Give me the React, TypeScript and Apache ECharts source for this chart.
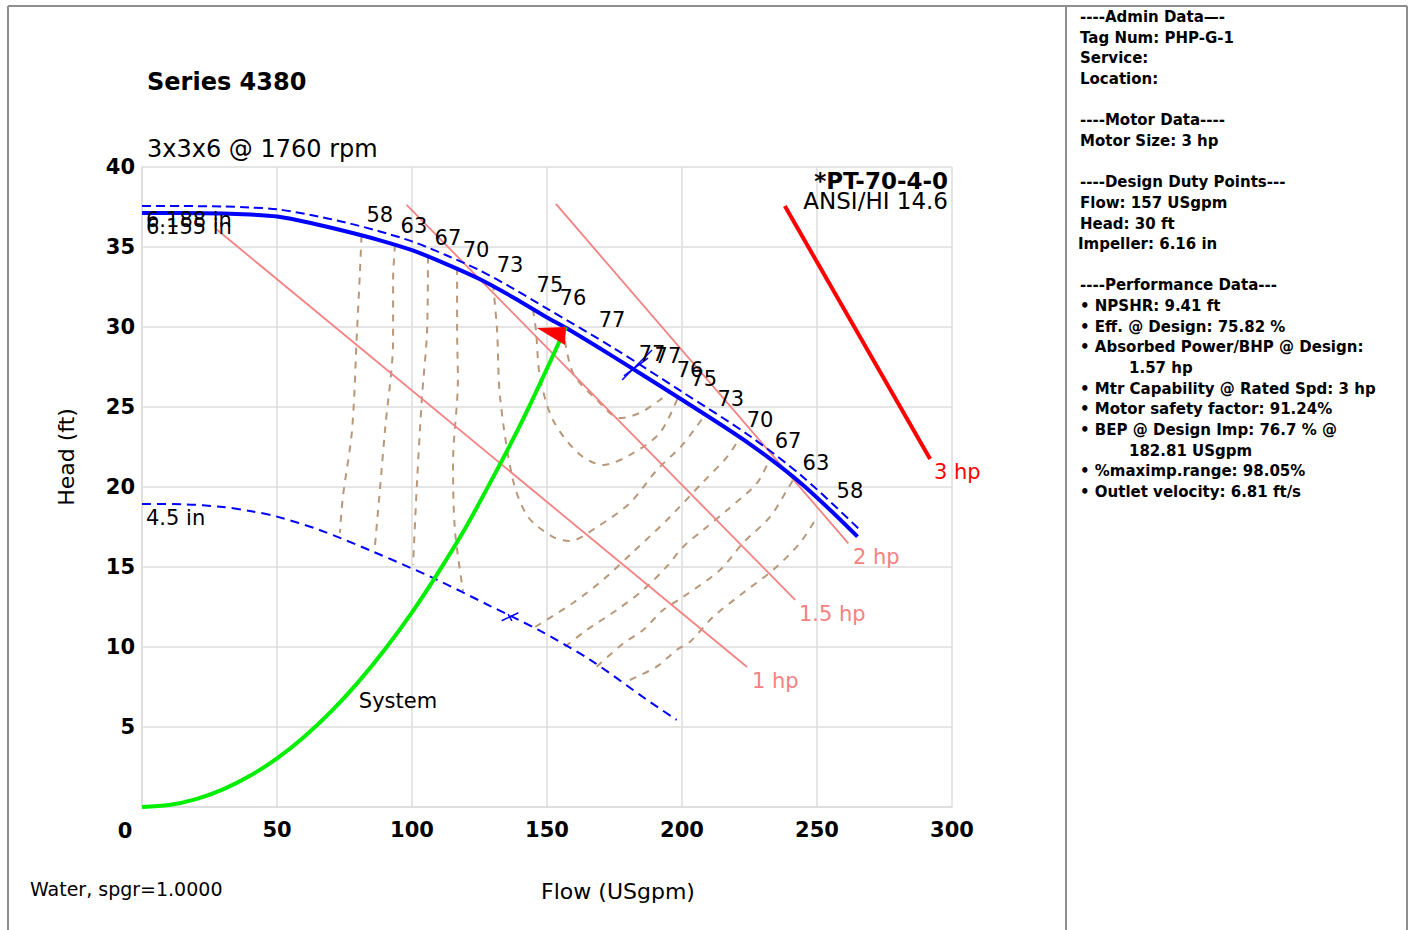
import React, { useEffect, useRef } from 'react';
import * as echarts from 'echarts';

const FONT = '"DejaVu Sans", Verdana, sans-serif';

// ---------- head curves (flow USgpm, head ft) ----------
const head6155 = [[0,37.13],[15,37.13],[30,37.1],[40,37.03],[50,36.9],[62.5,36.5],[75,36.0],[87.5,35.45],[100,34.8],[112.5,33.95],[125,33.0],[137.5,31.85],[150,30.6],[157,29.95],[175,28.1],[200,25.45],[225,22.7],[245,20.1],[265,16.9]];
const head6188 = [[0,37.56],[15,37.56],[30,37.53],[40,37.47],[50,37.36],[62.5,37.0],[75,36.55],[87.5,36.0],[100,35.35],[112.5,34.5],[125,33.55],[137.5,32.4],[150,31.15],[175,28.65],[200,25.95],[225,23.2],[245,20.6],[266,17.3]];
const head45 = [[0,18.94],[15,18.92],[30,18.75],[40,18.5],[50,18.15],[66,17.3],[85,16.0],[108,14.3],[129,12.56],[147,11.05],[166,9.2],[187,6.7],[198,5.45]];
const systemCurve = [[0,0],[10,0.12],[20,0.49],[30,1.1],[40,1.95],[50,3.04],[60,4.38],[70,5.96],[80,7.79],[90,9.86],[100,12.17],[110,14.73],[120,17.5],[130,20.6],[140,23.85],[150,27.4],[157,30]];

// ---------- power lines ----------
const power1 = [[27.0,36.19],[224.1,8.75]];
const power15 = [[98.0,37.63],[241.9,12.94]];
const power2 = [[153.3,37.69],[261.6,16.48]];
const power3 = [[238.1,37.56],[291.9,21.75]];

// ---------- efficiency contours ----------
const eff58L = [[81.3,35.7],[80.7,33.38],[79.6,29.63],[77.8,23.56],[74.4,19.38],[73.3,17.13]];
const eff63L = [[93.7,35.15],[93.0,32.94],[93.0,29.19],[90.0,23.56],[88.1,19.81],[86.3,16.38]];
const eff67L = [[105.9,34.4],[105.6,29.81],[103.7,25.63],[101.9,20.44],[100.4,15.13]];
const eff70L = [[116.7,33.7],[116.7,29.81],[117.0,26.69],[115.2,21.5],[115.9,17.31],[118.9,13.5]];
const eff73 = [[130.0,32.7],[131.5,29.81],[132.6,25.63],[137.4,20.44],[143.0,18.13],[152.2,16.88],[158.5,16.63],[168.5,17.5],[180.7,19.0],[190.7,21.06],[200,22.6],[208.5,24.5]];
const eff75 = [[144.8,31.1],[145.9,29.81],[147.4,26.88],[152.2,24.19],[161.5,22.13],[170.7,21.38],[180.7,22.0],[191.8,23.38],[198.5,25.6]];
const eff76 = [[155.9,30.0],[159.6,27.13],[168.5,25.44],[177.0,24.31],[184.4,24.63],[191.8,25.44],[196.0,26.0]];
const eff70R = [[145.6,11.25],[159.6,12.75],[170.7,14.19],[181.9,15.94],[194.4,17.94],[207.8,20.31],[216.7,21.88],[221.5,23.1]];
const eff67R = [[156.7,10.02],[164.7,11.06],[175.8,12.31],[185.6,13.56],[194.3,15.02],[200.5,16.27],[207.8,17.31],[216.7,18.56],[227.8,20.25],[232.6,21.8]];
const eff63R = [[168.4,8.77],[178.3,10.23],[185.6,11.06],[193.0,12.31],[200.4,13.13],[214.1,14.81],[222.6,16.5],[232.6,18.13],[238.9,19.81],[241.5,20.55]];
const eff58R = [[180.7,7.94],[190.6,8.77],[198.0,9.81],[203.0,10.33],[211.5,11.88],[222.6,13.38],[233.7,14.81],[243.7,16.5],[250,18.13]];

// ---------- markers ----------
const bepTickA = [[177.8,26.69],[188.9,28.56]];
const bepTickB = [[178.5,26.94],[187.4,28.06]];
const minTickA = [[133.2,11.64],[139.4,12.14]];
const minTickB = [[135.6,12.06],[137.0,11.63]];
const designPoint = [[157, 30]];

// ---------- labels ----------
const effLabelText = ['58','63','67','70','73','75','76','77','77','77','76','75','73','70','67','63','58'];
const effLabelPos = [[88.1,37.0],[100.7,36.31],[113.3,35.56],[123.7,34.81],[136.3,33.88],[151.1,32.63],[159.6,31.81],[174.1,30.44],[188.9,28.31],[194.8,28.19],[203.0,27.31],[208.1,26.75],[218.1,25.5],[228.9,24.19],[239.3,22.88],[249.6,21.5],[262.2,19.75]];
const curveLabelText = ['6.188 in','6.155 in','4.5 in'];
const curveLabelPos = [[1.48,36.69],[1.48,36.22],[1.48,18.06]];
const systemLabelText = ['System'];
const systemLabelPos = [[94.8,6.63]];
const hpLabelText = ['1 hp','1.5 hp','2 hp','3 hp'];
const hpLabelPos = [[225.9,7.875],[243.3,12.06],[263.3,15.63],[293.3,20.94]];

const panelLines = [
  '----Admin Data\u2014-',
  'Tag Num: PHP-G-1',
  'Service:',
  'Location:',
  '',
  '----Motor Data----',
  'Motor Size: 3 hp',
  '',
  '----Design Duty Points---',
  'Flow: 157 USgpm',
  'Head: 30 ft',
  'Impeller: 6.16 in',
  '',
  '----Performance Data---',
  '\u2022 NPSHR: 9.41 ft',
  '\u2022 Eff. @ Design: 75.82 %',
  '\u2022 Absorbed Power/BHP @ Design:',
  '1.57 hp',
  '\u2022 Mtr Capability @ Rated Spd: 3 hp',
  '\u2022 Motor safety factor: 91.24%',
  '\u2022 BEP @ Design Imp: 76.7 % @',
  '182.81 USgpm',
  '\u2022 %maximp.range: 98.05%',
  '\u2022 Outlet velocity: 6.81 ft/s',
];
const panelIndented = [17, 21];

const BLUE = '#0000ff';
const TAN = '#b9987a';
const SALMON = '#f58282';

function lineSeries(data: number[][], color: string, width: number, type: any, z: number, smooth: any = false) {
  return {
    type: 'line',
    data,
    showSymbol: false,
    symbol: 'none',
    smooth,
    z,
    silent: true,
    emphasis: { disabled: true },
    lineStyle: { color, width, type, cap: 'butt' },
  };
}

function labelSeries(pos: number[][], texts: string[], color: string | string[], size: number, align: string, z = 30) {
  return {
    type: 'custom',
    coordinateSystem: 'cartesian2d',
    silent: true,
    clip: false,
    z,
    data: pos,
    renderItem: (params: any, api: any) => {
      const p = api.coord([api.value(0), api.value(1)]);
      const fill = Array.isArray(color) ? color[params.dataIndex] : color;
      return {
        type: 'text',
        x: p[0],
        y: p[1],
        style: {
          text: texts[params.dataIndex],
          fill,
          fontSize: size,
          fontFamily: FONT,
          align,
          verticalAlign: 'middle',
        },
      };
    },
  };
}

function txt(text: string, x: number, y: number, size: number, weight: string, align = 'left', fill = '#000', rotation = 0) {
  return {
    type: 'text',
    x,
    y,
    rotation,
    silent: true,
    z: 50,
    style: { text, fill, fontSize: size, fontWeight: weight, fontFamily: FONT, align, verticalAlign: 'middle' },
  };
}

function frameLine(x1: number, y1: number, x2: number, y2: number) {
  return { type: 'line', silent: true, z: 50, shape: { x1, y1, x2, y2 }, style: { stroke: '#8e8e8e', lineWidth: 2 } };
}

export default function App() {
  const ref = useRef<HTMLDivElement>(null);
  useEffect(() => {
    if (!ref.current) return;
    const chart = echarts.init(ref.current, undefined, { renderer: 'svg' });

    const graphics: any[] = [
      frameLine(8, 6, 1407, 6),
      frameLine(8, 6, 8, 930),
      frameLine(1407, 6, 1407, 930),
      frameLine(1066, 6, 1066, 930),
      txt('Series 4380', 147, 82, 24, 'bold'),
      txt('3x3x6 @ 1760 rpm', 147, 149, 24, 'normal'),
      txt('*PT-70-4-0', 948, 181, 23, 'bold', 'right'),
      txt('ANSI/HI 14.6', 948, 201, 23, 'normal', 'right'),
      txt('Head (ft)', 66, 457, 22, 'normal', 'center', '#000', Math.PI / 2),
      txt('Flow (USgpm)', 618, 891, 22, 'normal', 'center'),
      txt('Water, spgr=1.0000', 30, 889, 19, 'normal', 'left'),
      txt('0', 125, 831, 21, 'bold', 'center'),
    ];
    panelLines.forEach((t, i) => {
      if (!t) return;
      let x = 1080;
      if (panelIndented.includes(i)) x = 1129;
      if (t.startsWith('Impeller')) x = 1078;
      graphics.push(txt(t, x, 17 + i * 20.65, 15, 'bold'));
    });

    const option: any = {
      animation: false,
      backgroundColor: '#ffffff',
      grid: { left: 142, top: 167, width: 810, height: 640, containLabel: false },
      xAxis: {
        type: 'value', min: 0, max: 300, interval: 50,
        axisLine: { show: true, lineStyle: { color: '#dcdcdc', width: 1.5 } },
        axisTick: { show: false },
        splitLine: { show: true, lineStyle: { color: '#dcdcdc', width: 1.5 } },
        axisLabel: {
          margin: 12, color: '#000', fontSize: 21, fontWeight: 'bold', fontFamily: FONT,
          formatter: (v: number) => (v === 0 ? '' : String(v)),
        },
      },
      yAxis: {
        type: 'value', min: 0, max: 40, interval: 5,
        axisLine: { show: true, lineStyle: { color: '#dcdcdc', width: 1.5 } },
        axisTick: { show: false },
        splitLine: { show: true, lineStyle: { color: '#dcdcdc', width: 1.5 } },
        axisLabel: {
          margin: 7, color: '#000', fontSize: 21, fontWeight: 'bold', fontFamily: FONT,
          formatter: (v: number) => (v === 0 ? '' : String(v)),
        },
      },
      series: [
        // efficiency contours
        ...[eff58L, eff63L, eff67L, eff70L, eff73, eff75, eff76, eff70R, eff67R, eff63R, eff58R].map((d) =>
          lineSeries(d, TAN, 2, [7, 7], 2, 0.3)
        ),
        // power lines
        lineSeries(power1, SALMON, 1.8, 'solid', 3),
        lineSeries(power15, SALMON, 1.8, 'solid', 3),
        lineSeries(power2, SALMON, 1.8, 'solid', 3),
        lineSeries(power3, '#ff0000', 4, 'solid', 3),
        // head curves
        lineSeries(head45, BLUE, 2, [9, 6], 5, 0.3),
        lineSeries(head6188, BLUE, 2, [9, 5], 5, 0.3),
        lineSeries(head6155, BLUE, 4, 'solid', 6, 0.3),
        // markers
        lineSeries(bepTickA, BLUE, 1.5, 'solid', 7),
        lineSeries(bepTickB, BLUE, 1.5, 'solid', 7),
        lineSeries(minTickA, BLUE, 1.5, 'solid', 7),
        lineSeries(minTickB, BLUE, 1.5, 'solid', 7),
        // system curve
        lineSeries(systemCurve, '#00ee00', 4, 'solid', 8, 0.3),
        // design point triangle
        {
          type: 'custom',
          coordinateSystem: 'cartesian2d',
          silent: true,
          clip: false,
          z: 9,
          data: designPoint,
          renderItem: (params: any, api: any) => {
            const p = api.coord([api.value(0), api.value(1)]);
            return {
              type: 'polygon',
              shape: { points: [[p[0] - 29, p[1] + 1], [p[0], p[1]], [p[0] - 1, p[1] + 18]] },
              style: { fill: '#ff0000' },
            };
          },
        },
        // labels
        labelSeries(effLabelPos, effLabelText, '#000', 21, 'center'),
        labelSeries(curveLabelPos, curveLabelText, '#000', 21, 'left'),
        labelSeries(systemLabelPos, systemLabelText, '#000', 21, 'center'),
        labelSeries(hpLabelPos, hpLabelText, [SALMON, SALMON, SALMON, '#ff0000'], 21, 'left'),
      ],
      graphic: { elements: graphics },
    };
    chart.setOption(option);
    return () => chart.dispose();
  }, []);

  return (
    <div
      ref={ref}
      style={{ position: 'fixed', left: 0, top: 0, width: 1413, height: 930, background: '#fff' }}
    />
  );
}
